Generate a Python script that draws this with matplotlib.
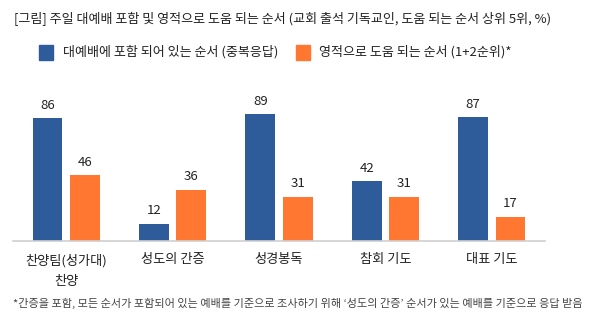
import matplotlib.pyplot as plt
import numpy as np

plt.rcParams['font.family'] = ['Noto Sans CJK KR', 'DejaVu Sans']

categories = ['찬양팀(성가대)\n찬양', '성도의 간증', '성경봉독', '참회 기도', '대표 기도']
included = [86, 12, 89, 42, 87]
helpful = [46, 36, 31, 31, 17]

series_names = ['대예배에 포함 되어 있는 순서 (중복응답)', '영적으로 도움 되는 순서 (1+2순위)*']
title = '[그림] 주일 대예배 포함 및 영적으로 도움 되는 순서 (교회 출석 기독교인, 도움 되는 순서 상위 5위, %)'
note = '*간증을 포함, 모든 순서가 포함되어 있는 예배를 기준으로 조사하기 위해 ‘성도의 간증’ 순서가 있는 예배를 기준으로 응답 받음'

blue = '#2E5C9A'
orange = '#FF7730'
txt = '#222222'

fig = plt.figure(figsize=(5.95, 3.22), dpi=100)
ax = fig.add_axes([13 / 595, 81 / 322, 532 / 595, 144 / 322])

x = np.arange(len(categories))
w = 0.28
off = 0.176
b1 = ax.bar(x - off, included, w, color=blue)
b2 = ax.bar(x + off, helpful, w, color=orange)

for bars in (b1, b2):
    for r in bars:
        ax.text(r.get_x() + r.get_width() / 2, r.get_height() + 4.5, str(int(r.get_height())),
                ha='center', va='bottom', fontsize=9.5, color=txt)

ax.set_xlim(-0.5, len(categories) - 0.5)
ax.set_ylim(0, 101)
ax.set_yticks([])
ax.set_xticks(x)
ax.set_xticklabels(categories, fontsize=9.5, color=txt, linespacing=1.75, fontweight='medium')
ax.tick_params(axis='x', length=0, pad=9)
for s in ['top', 'right', 'left']:
    ax.spines[s].set_visible(False)
ax.spines['bottom'].set_color('#cfcfcf')
ax.spines['bottom'].set_linewidth(1.2)

fig.text(14 / 595, 1 - 19 / 322, title, fontsize=9.4, color=txt, va='center', ha='left')

# legend drawn manually
fig.patches.append(plt.Rectangle((39 / 595, 1 - 60 / 322), 14 / 595, 15 / 322,
                                 transform=fig.transFigure, color=blue))
fig.text(63 / 595, 1 - 52 / 322, series_names[0], fontsize=9.4, color=txt, va='center')
fig.patches.append(plt.Rectangle((296 / 595, 1 - 60 / 322), 14 / 595, 15 / 322,
                                 transform=fig.transFigure, color=orange))
fig.text(319 / 595, 1 - 52 / 322, series_names[1], fontsize=9.4, color=txt, va='center')

fig.text(13 / 595, 1 - 303 / 322, note, fontsize=8.0, color='#444444', va='center', ha='left')

fig.savefig('out.png', dpi=100)
